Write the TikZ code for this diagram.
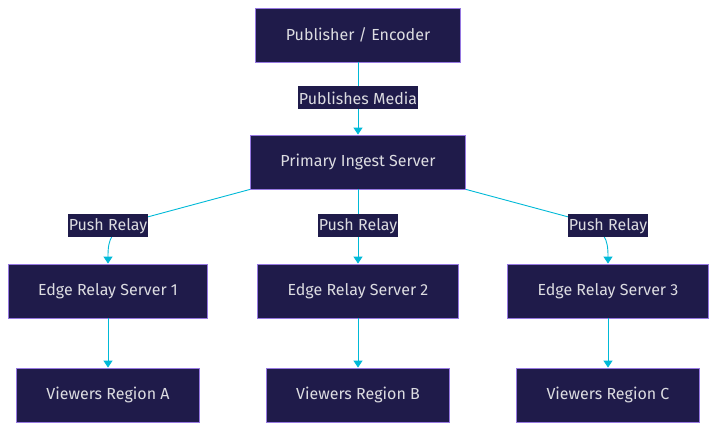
\documentclass[tikz,border=0pt]{standalone}
\usepackage{fontspec}
\setmainfont{Fira Sans}
\usetikzlibrary{arrows.meta}
\definecolor{boxN}{RGB}{31,27,74}
\definecolor{boxP}{RGB}{150,120,225}
\definecolor{txtG}{RGB}{220,220,225}
\definecolor{lnkC}{RGB}{0,185,215}

\begin{document}
\begin{tikzpicture}[x=1pt,y=-1pt,>={Triangle[length=7pt,width=9pt]},
  box/.style={draw=boxP,fill=boxN,text=txtG,line width=0.8pt,minimum height=54pt,inner xsep=30pt,font=\fontsize{16}{19}\selectfont},
  lbl/.style={fill=boxN,text=txtG,inner xsep=1pt,inner ysep=0pt,minimum height=23pt,font=\fontsize{16}{19}\selectfont},
  flow/.style={->,draw=lnkC,line width=0.9pt}]
\useasboundingbox (0,0) rectangle (717,430);
% nodes
\node[box] (pub) at (358,35) {Publisher / Encoder};
\node[box] (ing) at (358,162) {Primary Ingest Server};
\node[box] (e1) at (108,291) {Edge Relay Server 1};
\node[box] (e2) at (358,291) {Edge Relay Server 2};
\node[box] (e3) at (608,291) {Edge Relay Server 3};
\node[box] (va) at (108,395) {Viewers Region A};
\node[box] (vb) at (358,395) {Viewers Region B};
\node[box] (vc) at (608,395) {Viewers Region C};
% links
\draw[flow] (pub) -- (ing);
\draw[flow] (ing.south west) -- (140,219) .. controls (110,228) and (108,240) .. (e1.north);
\draw[flow] (ing) -- (e2);
\draw[flow] (ing.south east) -- (576,219) .. controls (606,228) and (608,240) .. (e3.north);
\draw[flow] (e1) -- (va);
\draw[flow] (e2) -- (vb);
\draw[flow] (e3) -- (vc);
% labels
\node[lbl] (lpub) at (358,98) {Publishes Media};
\node[lbl] (l1) at (108,226) {Push Relay};
\node[lbl] (l2) at (358,226) {Push Relay};
\node[lbl] (l3) at (608,226) {Push Relay};
\end{tikzpicture}
\end{document}
